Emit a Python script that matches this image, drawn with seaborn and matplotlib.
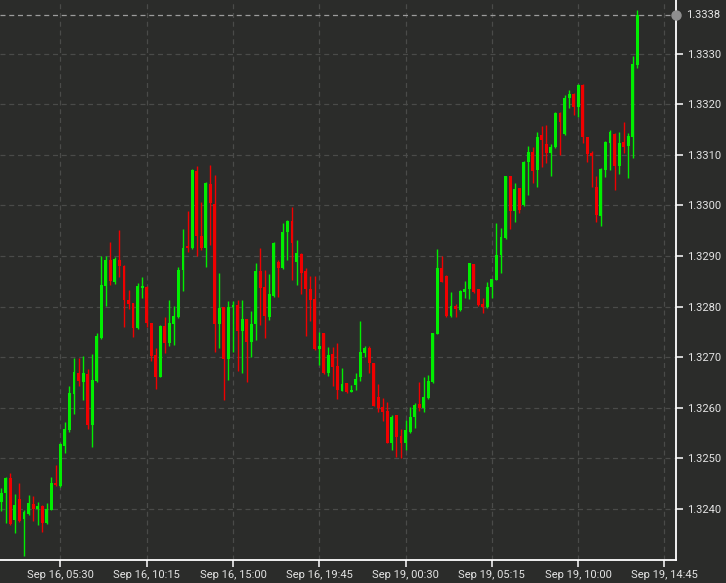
import numpy as np
import pandas as pd
import matplotlib
matplotlib.use("Agg")
import matplotlib.pyplot as plt
from matplotlib import font_manager
import seaborn as sns

# 15 minute candles, EUR-style quote
opens = [1.32414, 1.32431, 1.32461, 1.32378, 1.32419, 1.32380, 1.32390, 1.32410, 1.32399, 1.32406,
         1.32372, 1.32398, 1.32452, 1.32446, 1.32525, 1.32556, 1.32627, 1.32669, 1.32650, 1.32667,
         1.32566, 1.32652, 1.32737, 1.32841, 1.32893, 1.32849, 1.32893, 1.32881, 1.32813, 1.32807,
         1.32757, 1.32837, 1.32839, 1.32767, 1.32704, 1.32661, 1.32762, 1.32727, 1.32766, 1.32779,
         1.32872, 1.32920, 1.32915, 1.33067, 1.32940, 1.32915, 1.33042, 1.33003, 1.32766, 1.32799,
         1.32696, 1.32800, 1.32803, 1.32752, 1.32775, 1.32729, 1.32766, 1.32871, 1.32838, 1.32779,
         1.32821, 1.32889, 1.32876, 1.32947, 1.32970, 1.32889, 1.32904, 1.32871, 1.32834, 1.32814,
         1.32717, 1.32747, 1.32668, 1.32706, 1.32683, 1.32634, 1.32648, 1.32632, 1.32645, 1.32660,
         1.32709, 1.32718, 1.32688, 1.32621, 1.32601, 1.32594, 1.32530, 1.32585, 1.32544, 1.32530,
         1.32553, 1.32581, 1.32608, 1.32599, 1.32619, 1.32650, 1.32746, 1.32876, 1.32860, 1.32781,
         1.32801, 1.32793, 1.32829, 1.32834, 1.32884, 1.32834, 1.32805, 1.32799, 1.32838, 1.32853,
         1.32902, 1.32935, 1.33058, 1.32988, 1.33034, 1.33001, 1.33086, 1.33106, 1.33069, 1.33139,
         1.33121, 1.33104, 1.33115, 1.33182, 1.33142, 1.33212, 1.33221, 1.33194, 1.33238, 1.33135,
         1.33104, 1.33037, 1.32979, 1.33070, 1.33123, 1.33142, 1.33078, 1.33126, 1.33117, 1.33136,
         1.33278]
highs = [1.32441, 1.32463, 1.32471, 1.32430, 1.32452, 1.32397, 1.32428, 1.32426, 1.32414, 1.32408,
         1.32411, 1.32464, 1.32487, 1.32530, 1.32571, 1.32642, 1.32698, 1.32698, 1.32702, 1.32676,
         1.32706, 1.32747, 1.32899, 1.32900, 1.32928, 1.32897, 1.32951, 1.32883, 1.32833, 1.32808,
         1.32846, 1.32858, 1.32841, 1.32768, 1.32718, 1.32764, 1.32779, 1.32812, 1.32801, 1.32878,
         1.32953, 1.32988, 1.33071, 1.33078, 1.33007, 1.33047, 1.33080, 1.33060, 1.32866, 1.32800,
         1.32810, 1.32810, 1.32812, 1.32812, 1.32776, 1.32792, 1.32886, 1.32915, 1.32872, 1.32864,
         1.32927, 1.32893, 1.32966, 1.32972, 1.32997, 1.32932, 1.32905, 1.32876, 1.32860, 1.32860,
         1.32750, 1.32748, 1.32721, 1.32721, 1.32727, 1.32678, 1.32649, 1.32645, 1.32669, 1.32772,
         1.32722, 1.32722, 1.32689, 1.32647, 1.32619, 1.32612, 1.32585, 1.32586, 1.32558, 1.32575,
         1.32601, 1.32609, 1.32650, 1.32661, 1.32665, 1.32748, 1.32913, 1.32899, 1.32862, 1.32829,
         1.32805, 1.32832, 1.32851, 1.32887, 1.32885, 1.32835, 1.32816, 1.32849, 1.32855, 1.32966,
         1.32955, 1.33059, 1.33059, 1.33044, 1.33035, 1.33087, 1.33117, 1.33116, 1.33146, 1.33157,
         1.33159, 1.33121, 1.33185, 1.33185, 1.33218, 1.33228, 1.33222, 1.33239, 1.33239, 1.33136,
         1.33107, 1.33058, 1.33073, 1.33127, 1.33150, 1.33143, 1.33146, 1.33165, 1.33144, 1.33295,
         1.33386]
lows = [1.32395, 1.32373, 1.32368, 1.32353, 1.32375, 1.32306, 1.32388, 1.32377, 1.32368, 1.32355,
        1.32370, 1.32397, 1.32446, 1.32444, 1.32510, 1.32553, 1.32588, 1.32642, 1.32615, 1.32558,
        1.32523, 1.32650, 1.32736, 1.32802, 1.32843, 1.32845, 1.32858, 1.32759, 1.32795, 1.32739,
        1.32756, 1.32816, 1.32760, 1.32693, 1.32637, 1.32660, 1.32709, 1.32722, 1.32724, 1.32778,
        1.32831, 1.32908, 1.32914, 1.32899, 1.32912, 1.32878, 1.32922, 1.32711, 1.32718, 1.32615,
        1.32655, 1.32711, 1.32673, 1.32668, 1.32650, 1.32700, 1.32734, 1.32764, 1.32737, 1.32774,
        1.32818, 1.32818, 1.32875, 1.32893, 1.32853, 1.32843, 1.32825, 1.32741, 1.32772, 1.32715,
        1.32685, 1.32667, 1.32663, 1.32642, 1.32617, 1.32633, 1.32629, 1.32631, 1.32635, 1.32652,
        1.32700, 1.32668, 1.32603, 1.32592, 1.32573, 1.32530, 1.32517, 1.32503, 1.32500, 1.32517,
        1.32551, 1.32560, 1.32594, 1.32592, 1.32617, 1.32649, 1.32745, 1.32848, 1.32780, 1.32780,
        1.32780, 1.32792, 1.32816, 1.32814, 1.32827, 1.32801, 1.32788, 1.32798, 1.32816, 1.32852,
        1.32867, 1.32934, 1.32953, 1.32968, 1.32984, 1.32999, 1.33021, 1.33044, 1.33037, 1.33076,
        1.33083, 1.33058, 1.33114, 1.33100, 1.33139, 1.33192, 1.33179, 1.33174, 1.33123, 1.33086,
        1.33037, 1.32968, 1.32959, 1.33056, 1.33070, 1.33030, 1.33063, 1.33103, 1.33054, 1.33093,
        1.33271]
closes = [1.32431, 1.32461, 1.32370, 1.32408, 1.32377, 1.32393, 1.32411, 1.32399, 1.32406, 1.32372,
          1.32399, 1.32452, 1.32447, 1.32529, 1.32558, 1.32629, 1.32671, 1.32652, 1.32668, 1.32566,
          1.32655, 1.32741, 1.32843, 1.32893, 1.32851, 1.32895, 1.32881, 1.32813, 1.32805, 1.32757,
          1.32841, 1.32841, 1.32767, 1.32702, 1.32661, 1.32762, 1.32727, 1.32767, 1.32781, 1.32872,
          1.32915, 1.32915, 1.33069, 1.32940, 1.32915, 1.33044, 1.33005, 1.32766, 1.32797, 1.32696,
          1.32800, 1.32803, 1.32752, 1.32775, 1.32729, 1.32766, 1.32871, 1.32836, 1.32781, 1.32825,
          1.32926, 1.32876, 1.32947, 1.32970, 1.32926, 1.32905, 1.32866, 1.32834, 1.32812, 1.32716,
          1.32722, 1.32668, 1.32704, 1.32681, 1.32635, 1.32647, 1.32632, 1.32635, 1.32656, 1.32711,
          1.32719, 1.32688, 1.32604, 1.32599, 1.32592, 1.32531, 1.32582, 1.32542, 1.32530, 1.32555,
          1.32581, 1.32606, 1.32599, 1.32621, 1.32652, 1.32747, 1.32876, 1.32849, 1.32781, 1.32801,
          1.32795, 1.32831, 1.32834, 1.32886, 1.32829, 1.32803, 1.32800, 1.32838, 1.32854, 1.32902,
          1.32937, 1.33058, 1.32988, 1.33032, 1.32990, 1.33086, 1.33106, 1.33067, 1.33136, 1.33129,
          1.33104, 1.33116, 1.33182, 1.33165, 1.33212, 1.33220, 1.33194, 1.33238, 1.33135, 1.33102,
          1.33098, 1.32981, 1.33071, 1.33126, 1.33146, 1.33078, 1.33124, 1.33115, 1.33137, 1.33279,
          1.33376]

price_ticks = [1.3240, 1.3250, 1.3260, 1.3270, 1.3280, 1.3290, 1.3300, 1.3310, 1.3320, 1.3330]

# sessions: friday from 02:15, market reopens sunday 22:00 (axis skips the weekend)
friday = pd.date_range("2016-09-16 02:15", periods=79, freq="15min")
monday = pd.date_range("2016-09-18 22:00", periods=80, freq="15min")
times = friday.append(monday)

df = pd.DataFrame({"open": opens, "high": highs, "low": lows, "close": closes})
df["pos"] = np.arange(len(df))
df["up"] = df["close"] >= df["open"]

bg = "#2b2c2a"
green = "#00ee00"
red = "#f00000"
fsize = 8.0

sns.set_style("dark", rc={"axes.facecolor": bg, "figure.facecolor": bg})
names = {f.name for f in font_manager.fontManager.ttflist}
fam = "Liberation Sans Narrow" if "Liberation Sans Narrow" in names else "Roboto"
plt.rcParams["font.family"] = [fam, "DejaVu Sans"]

fig = plt.figure(figsize=(7.26, 5.83), dpi=100)
ax = fig.add_axes([0, 23 / 583, 676.3 / 726, 560 / 583])

colors = np.where(df["up"], green, red)
body_lo = df[["open", "close"]].min(axis=1)
body_h = (df["close"] - df["open"]).abs().clip(lower=0.00003)

ax.vlines(df["pos"], df["low"], df["high"], colors=colors, linewidth=1.0, zorder=3)
ax.bar(df["pos"], body_h, bottom=body_lo, width=0.64, color=colors, linewidth=0, zorder=4)

# last price marker
last = closes[-1]
ax.axhline(last, color="#9c9c9c", linestyle=(0, (4, 3)), linewidth=0.9, zorder=2)
ax.plot([1.0], [last], marker="o", markersize=6.5, color="#8f8f8f",
        transform=ax.get_yaxis_transform(), clip_on=False, zorder=6)
ax.annotate(f"{last:.4f}", xy=(1.0, last), xycoords=ax.get_yaxis_transform(),
            xytext=(7, 0), textcoords="offset points", ha="left", va="center",
            fontsize=fsize, color="#e4e4e4")

ax.set_xlim(-0.29, 148.6)
ax.set_ylim(1.32299, 1.33406)

xt = np.arange(13, len(times), 19)
ax.set_xticks(xt)
ax.set_xticklabels([times[i].strftime("%b %d, %H:%M") for i in xt])
ax.yaxis.tick_right()
ax.set_yticks(price_ticks)
ax.set_yticklabels([f"{p:.4f}" for p in price_ticks])

ax.grid(True, linestyle=(0, (4, 3)), color="#4a4b49", linewidth=0.9)
ax.set_axisbelow(True)
for side in ["top", "left"]:
    ax.spines[side].set_visible(False)
for side in ["bottom", "right"]:
    ax.spines[side].set_visible(True)
    ax.spines[side].set_color("white")
    ax.spines[side].set_linewidth(1.3)

ax.tick_params(axis="both", which="major", direction="out", length=5, width=1.1,
               color="white", labelcolor="#e4e4e4", labelsize=fsize, pad=2.5,
               bottom=True, right=True, left=False)

fig.savefig("out.png", dpi=100, facecolor=bg)
